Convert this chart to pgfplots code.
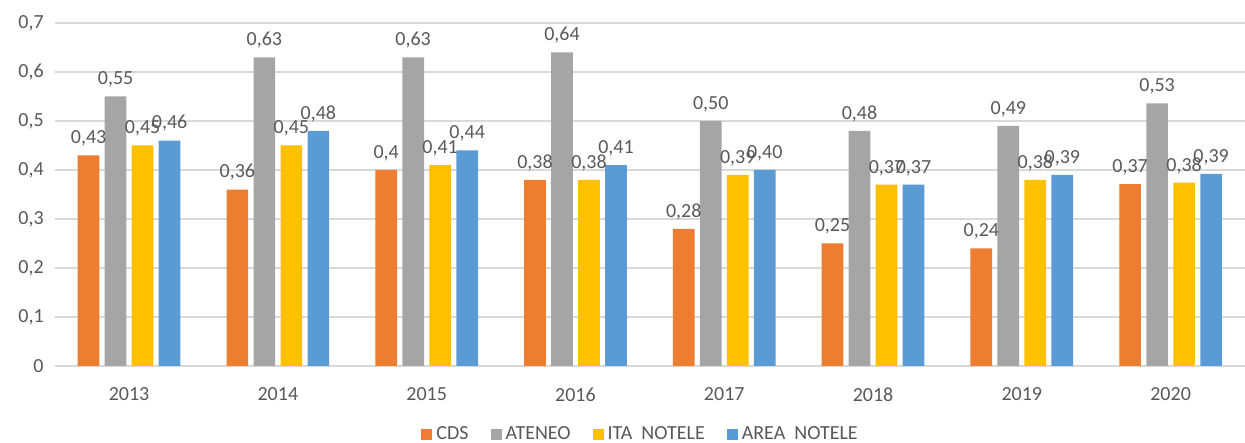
\documentclass[border=0pt]{standalone}
\usepackage{fontspec}
\setmainfont{Carlito}
\usepackage{pgfplots}
\pgfplotsset{compat=1.18}
\usepackage{pgfplotstable}
\definecolor{cds}{HTML}{ED7D31}
\definecolor{ateneo}{HTML}{A5A5A5}
\definecolor{ita}{HTML}{FFC000}
\definecolor{area}{HTML}{5B9BD5}
\definecolor{txt}{HTML}{595959}
\definecolor{gridc}{HTML}{D9D9D9}

\pgfplotstableread{
x  cds    cdsl  ateneo  ateneol  ita    ital  area   areal
0  0.43   0,43  0.55    0,55     0.45   0,45  0.46   0,46
1  0.36   0,36  0.63    0,63     0.45   0,45  0.48   0,48
2  0.40   0,4   0.63    0,63     0.41   0,41  0.44   0,44
3  0.38   0,38  0.64    0,64     0.38   0,38  0.41   0,41
4  0.28   0,28  0.50    0,50     0.39   0,39  0.40   0,40
5  0.25   0,25  0.48    0,48     0.37   0,37  0.37   0,37
6  0.24   0,24  0.49    0,49     0.38   0,38  0.39   0,39
7  0.371  0,37  0.536   0,53     0.374  0,38  0.392  0,39
}\data

\begin{document}
\begin{tikzpicture}
\begin{axis}[
  scale only axis,
  width=595.15pt, height=171.5pt,
  ybar=2.65pt, bar width=10.85pt,
  xmin=-0.5, xmax=7.5,
  ymin=0, ymax=0.7,
  axis lines*=left,
  x axis line style={draw=gridc, line width=0.75pt, -},
  y axis line style={draw=none},
  xtick={0,1,2,3,4,5,6,7},
  xticklabels={2013,2014,2015,2016,2017,2018,2019,2020},
  ytick={0,0.1,...,0.7},
  tick style={draw=none},
  xtick pos=bottom, ytick pos=left,
  ymajorgrids=true,
  major y grid style={draw=gridc, line width=0.75pt},
  font=\fontsize{10}{12}\selectfont,
  every tick label/.append style={text=txt},
  /pgf/number format/assume math mode=true,
  yticklabel={\pgfmathprintnumber[fixed, precision=1, use comma]{\tick}},
  yticklabel style={xshift=-2pt},
  xticklabel style={yshift=-3pt},
  point meta=explicit symbolic,
  nodes near coords={\pgfplotspointmeta},
  nodes near coords style={text=txt, font=\fontsize{10}{12}\selectfont, yshift=1pt},
  legend style={draw=none, at={(0.493,-0.201)}, anchor=center,
    legend columns=4, text=txt, font=\fontsize{10}{12}\selectfont,
    /tikz/every even column/.append style={column sep=9pt}},
  legend image code/.code={\fill[#1] (0pt,-2.75pt) rectangle (5.5pt,2.75pt);},
]
\addplot[fill=cds, draw=none] table[x=x, y=cds, meta=cdsl] {\data};
\addplot[fill=ateneo, draw=none] table[x=x, y=ateneo, meta=ateneol] {\data};
\addplot[fill=ita, draw=none] table[x=x, y=ita, meta=ital] {\data};
\addplot[fill=area, draw=none] table[x=x, y=area, meta=areal] {\data};
\legend{CDS, ATENEO, ITA\ \ NOTELE, AREA\ \ NOTELE}
\end{axis}
\pgfresetboundingbox
\path[use as bounding box] ([shift={(-27.35pt,-38.5pt)}]current axis.south west) rectangle ([shift={(0pt,11.5pt)}]current axis.north east);
\end{tikzpicture}
\end{document}
